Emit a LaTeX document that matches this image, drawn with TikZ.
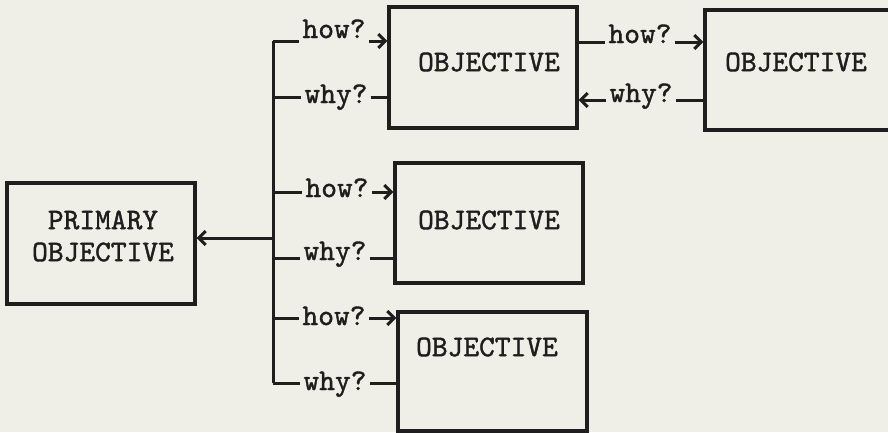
\documentclass[tikz,border=0pt]{standalone}
\usepackage{fontspec}
\usetikzlibrary{arrows.meta}
\newfontfamily\tw{lmmono10-regular.otf}[FakeBold=1.3]
\definecolor{paper}{HTML}{EFEFE8}
\definecolor{ink}{HTML}{1E1E1E}
\tikzset{
  wire/.style={draw=ink, line width=3pt},
  tip/.style={wire, -{Straight Barb[length=7pt,width=14pt]}},
  objbox/.style={draw=ink, line width=3.2pt, inner sep=0pt, rectangle},
  word/.style={text=ink, font=\tw\fontsize{30}{32}\selectfont, inner sep=3pt},
  ask/.style={word, anchor=base},
}
\begin{document}
\begin{tikzpicture}[x=1pt,y=-1pt]
  \fill[paper] (0,0) rectangle (888,432);
  \useasboundingbox (0,0) rectangle (888,432);
  \clip (0,0) rectangle (888,432);

  % boxes
  \node[objbox, minimum width=188pt, minimum height=121pt] (prim) at (101,243.5) {};
  \node[word, align=center] (primtxt) at (103,236) {PRIMARY\\OBJECTIVE};
  \node[objbox, minimum width=188pt, minimum height=121pt] (b1) at (483,67.5) {};
  \node[word] (b1txt) at (489,62) {OBJECTIVE};
  \node[objbox, minimum width=195pt, minimum height=120pt] (b2) at (802.5,70) {};
  \node[word] (b2txt) at (796,62) {OBJECTIVE};
  \node[objbox, minimum width=188pt, minimum height=120pt] (b3) at (489,223) {};
  \node[word] (b3txt) at (489,220) {OBJECTIVE};
  \node[objbox, minimum width=189pt, minimum height=119pt] (b4) at (492.5,371.5) {};
  \node[word] (b4txt) at (487,347) {OBJECTIVE};

  % question labels
  \node[ask] (hA) at (334,38) {how?};
  \node[ask] (wA) at (336,103) {why?};
  \node[ask] (hB) at (640,43) {how?};
  \node[ask] (wB) at (641,102) {why?};
  \node[ask] (hC) at (337,197) {how?};
  \node[ask] (wC) at (335,260) {why?};
  \node[ask] (hD) at (334,325) {how?};
  \node[ask] (wD) at (335,390) {why?};

  % trunk junctions
  \coordinate (tA) at (273,41);
  \coordinate (uA) at (273,97);
  \coordinate (tP) at (273,238);
  \coordinate (tC) at (273,192);
  \coordinate (uC) at (273,258);
  \coordinate (tD) at (273,318);
  \coordinate (uD) at (273,383);
  \coordinate (rB) at (577,42);
  \coordinate (sB) at (577,100);

  % trunk
  \draw[wire] (tA) -- (uD);
  \draw[tip] (tP) -- (prim.east |- tP);

  % first branch
  \draw[wire] (tA) -- (hA.west |- tA);
  \draw[tip] (hA.east |- tA) -- (b1.west |- tA);
  \draw[wire] (uA) -- (wA.west |- uA);
  \draw[wire] (wA.east |- uA) -- (b1.west |- uA);

  % to the right-hand objective
  \draw[wire] (rB) -- (hB.west |- rB);
  \draw[tip] (hB.east |- rB) -- (b2.west |- rB);
  \draw[wire] (b2.west |- sB) -- (wB.east |- sB);
  \draw[tip] (wB.west |- sB) -- (b1.east |- sB);

  % second branch
  \draw[wire] (tC) -- (hC.west |- tC);
  \draw[tip] (hC.east |- tC) -- (b3.west |- tC);
  \draw[wire] (uC) -- (wC.west |- uC);
  \draw[wire] (wC.east |- uC) -- (b3.west |- uC);

  % third branch
  \draw[wire] (tD) -- (hD.west |- tD);
  \draw[tip] (hD.east |- tD) -- (b4.west |- tD);
  \draw[wire] (uD) -- (wD.west |- uD);
  \draw[wire] (wD.east |- uD) -- (b4.west |- uD);
\end{tikzpicture}
\end{document}
